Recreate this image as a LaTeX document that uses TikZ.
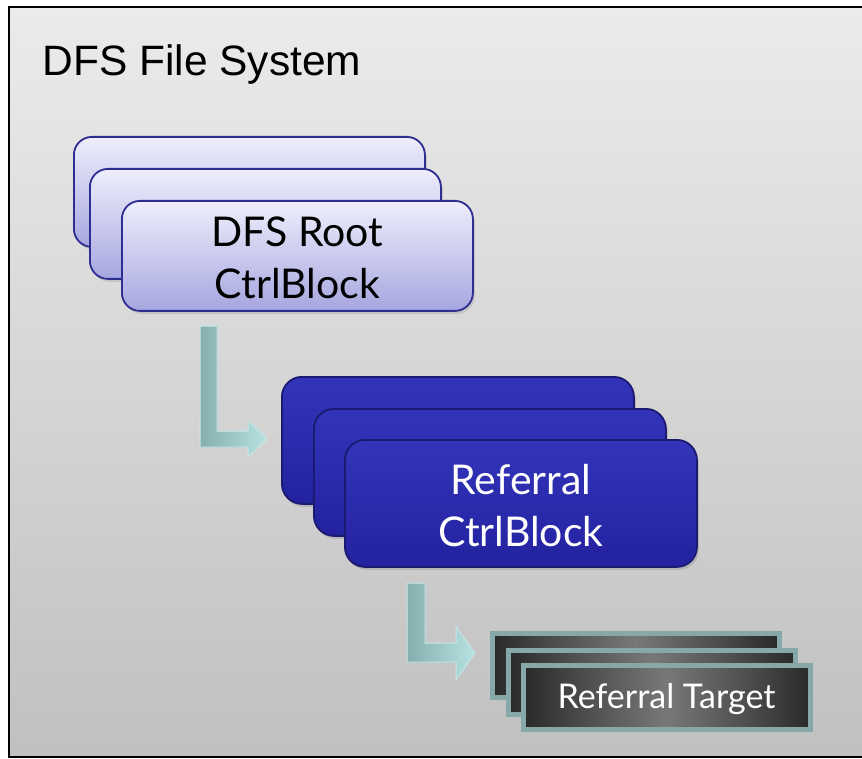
\documentclass[tikz,border=0pt]{standalone}
\usepackage{fontspec}
\setmainfont{Liberation Sans}
\newfontfamily\gillfont{Lato}
\usetikzlibrary{shadows}
\definecolor{bgtop}{HTML}{EBEBEB}
\definecolor{bgbot}{HTML}{C0C0C0}
\definecolor{lavtop}{HTML}{EEEEFC}
\definecolor{lavbot}{HTML}{A6A6E0}
\definecolor{lavline}{HTML}{2E2E90}
\definecolor{blutop}{HTML}{3434BA}
\definecolor{blubot}{HTML}{2222A0}
\definecolor{bluline}{HTML}{1A1A70}
\definecolor{tealdark}{HTML}{86AEAE}
\definecolor{teallight}{HTML}{B6E2E2}
\definecolor{tealedge}{HTML}{C8E8E8}
\definecolor{tgtline}{HTML}{86A8A8}
\definecolor{tgtmid}{HTML}{787878}
\pgfdeclarehorizontalshading{tgtshade}{100bp}{color(0bp)=(black); color(18bp)=(black!85!tgtmid); color(36bp)=(black!35!tgtmid); color(50bp)=(tgtmid); color(64bp)=(black!35!tgtmid); color(82bp)=(black!85!tgtmid); color(100bp)=(black)}
\tikzset{
  lavbox/.style={rectangle, rounded corners=18pt, minimum width=351pt, minimum height=110pt,
    anchor=north west, top color=lavtop, bottom color=lavbot, draw=lavline, line width=1.8pt,
    drop shadow={opacity=0.25, shadow xshift=2pt, shadow yshift=-3pt}},
  blubox/.style={rectangle, rounded corners=20pt, minimum width=352pt, minimum height=127pt,
    anchor=north west, top color=blutop, bottom color=blubot, draw=bluline, line width=1.8pt,
    drop shadow={opacity=0.3, shadow xshift=2pt, shadow yshift=-3pt}},
  tgtbox/.style={rectangle, minimum width=287pt, minimum height=64pt, anchor=north west,
    shading=tgtshade, draw=tgtline, line width=5pt,
    drop shadow={opacity=0.2, shadow xshift=2pt, shadow yshift=-2pt}},
  bigarrow/.style={left color=tealdark, right color=teallight, draw=tealedge, line width=1pt},
  boxtext/.style={font=\gillfont\fontsize{41}{52}\selectfont, align=center},
}
\begin{document}
\begin{tikzpicture}[x=1pt,y=-1pt]
\useasboundingbox (0,0) rectangle (862,759);
\clip (0,0) rectangle (862,759);
\shade[top color=bgtop, bottom color=bgbot] (9,7) rectangle (870,757);
\draw[line width=2pt] (870,7) -- (9,7) -- (9,757) -- (870,757);
\node[anchor=base west, font=\fontsize{42.5}{50}\selectfont] (title) at (39,76) {DFS File System};
% root stack
\node[lavbox] (root1) at (73,136) {};
\node[lavbox] (root2) at (89,168) {};
\node[lavbox] (root3) at (121,200) {};
\node[boxtext, text=black] (roottext) at ([yshift=-2pt]root3.center) {DFS Root\\CtrlBlock};
% arrow 1
\filldraw[bigarrow] (200,326) -- (217,326) -- (217,431) -- (248,431) -- (248,420) -- (267,439)
  -- (248,457) -- (248,447) -- (200,447) -- cycle;
% referral stack
\node[blubox] (ref1) at (281,376) {};
\node[blubox] (ref2) at (313,408) {};
\node[blubox] (ref3) at (344,439) {};
\node[boxtext, text=white] (reftext) at ([yshift=-2pt]ref3.center) {Referral\\CtrlBlock};
% arrow 2
\filldraw[bigarrow] (407,583) -- (425,583) -- (425,643) -- (456,643) -- (456,627) -- (475,653)
  -- (456,680) -- (456,662) -- (407,662) -- cycle;
% target stack
\node[tgtbox] (tgt1) at (489.5,630.5) {};
\node[tgtbox] (tgt2) at (505.5,647.5) {};
\node[tgtbox] (tgt3) at (520.5,662.5) {};
\node[font=\gillfont\fontsize{34}{38}\selectfont, text=white] (tgttext) at ([yshift=-2pt]tgt3.center) {Referral Target};
\end{tikzpicture}
\end{document}
